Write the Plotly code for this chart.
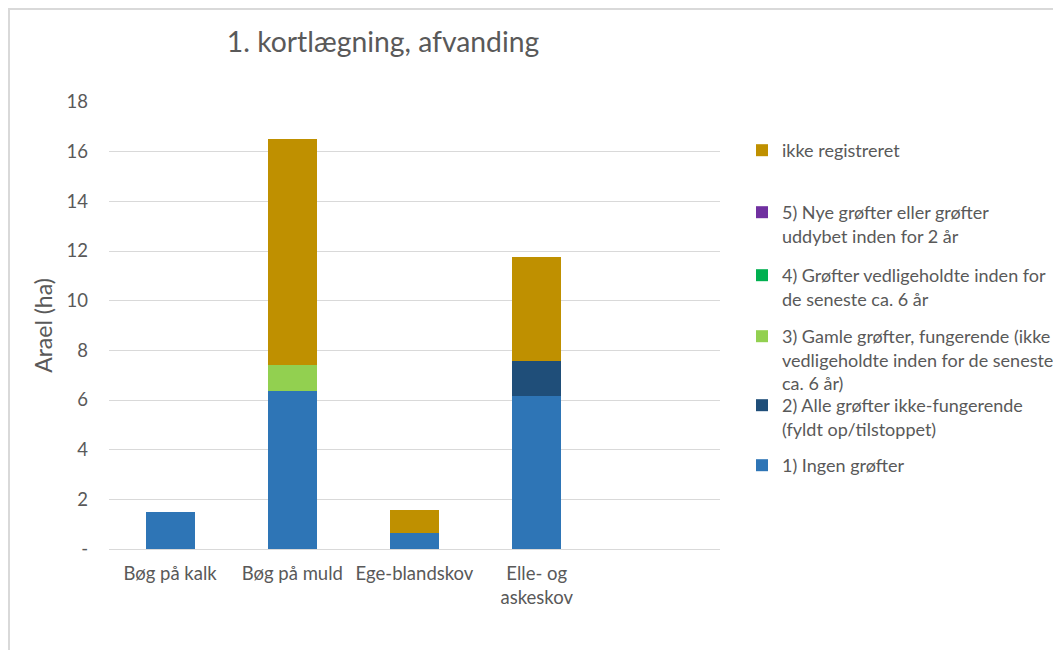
import plotly.graph_objects as go

# ---- data ----
categories = ["Bøg på kalk", "Bøg på muld", "Ege-blandskov", "Elle- og<br>askeskov"]
s1_ingen = [1.50, 6.36, 0.63, 6.15]
s2_alle_ikke_fung = [0.00, 0.00, 0.00, 1.41]
s3_gamle_fung = [0.00, 1.05, 0.00, 0.00]
s4_vedligeholdt = [0.00, 0.00, 0.00, 0.00]
s5_nye = [0.00, 0.00, 0.00, 0.00]
s6_ikke_reg = [0.00, 9.10, 0.95, 4.20]

series_names = [
    "1) Ingen grøfter",
    "2) Alle grøfter ikke-fungerende<br>(fyldt op/tilstoppet)",
    "3) Gamle grøfter, fungerende (ikke<br>vedligeholdte inden for de seneste<br>ca. 6 år)",
    "4) Grøfter vedligeholdte inden for<br>de seneste ca. 6 år",
    "5) Nye grøfter eller grøfter<br>uddybet inden for 2 år",
    "ikke registreret",
]
series_values = [s1_ingen, s2_alle_ikke_fung, s3_gamle_fung, s4_vedligeholdt, s5_nye, s6_ikke_reg]
series_colors = ["#2E75B6", "#1F4E79", "#92D050", "#00B050", "#7030A0", "#BF9000"]

y_tickvals = [0, 2, 4, 6, 8, 10, 12, 14, 16, 18]
y_ticktext = ["-", "2", "4", "6", "8", "10", "12", "14", "16", "18"]

# ---- layout geometry (screen pixels; page body has an 8px margin) ----
VIEW_W, VIEW_H = 1061, 650
W, H = 1110, 650          # figure a bit wider than the view so the legend never squeezes the plot
OFF = 8
PL, PR, PT, PB = 109 - OFF, 720 - OFF, 102 - OFF, 549 - OFF
pw, ph = PR - PL, PB - PT


def px_x(px):  # figure pixel -> paper
    return (px - PL) / pw


def px_y(py):
    return (PB - py) / ph


FONT = "Lato, 'Open Sans', sans-serif"
GREY = "#595959"

fig = go.Figure()
for i, (name, vals, col) in enumerate(zip(series_names, series_values, series_colors)):
    lg = "legend" if i == 0 else f"legend{i + 1}"
    fig.add_trace(go.Bar(
        x=categories, y=vals, name=name, marker=dict(color=col, line=dict(width=0)),
        legend=lg, hoverinfo="x+y+name",
    ))

legend_line_centres = [467, 407, 338, 277, 214, 152]  # screen y of first text line
layout_legends = {}
for i, yc in enumerate(legend_line_centres):
    key = "legend" if i == 0 else f"legend{i + 1}"
    layout_legends[key] = dict(
        x=px_x(783 - OFF - 41), y=px_y(yc - OFF - 20), xanchor="left", yanchor="top",
        valign="top", bgcolor="rgba(0,0,0,0)",
        font=dict(family=FONT, size=18, color=GREY),
        itemclick=False, itemdoubleclick=False,
    )

fig.update_layout(
    width=W, height=H,
    margin=dict(l=PL, r=W - PR, t=PT, b=H - PB, pad=0),
    paper_bgcolor="white", plot_bgcolor="white",
    barmode="stack", bargap=0.6,
    showlegend=True,
    title=dict(text="1. kortlægning, afvanding", x=(383 - OFF) / W, xanchor="center",
               y=1 - (42 - OFF) / H, yanchor="middle",
               font=dict(family=FONT, size=28.3, color=GREY)),
    font=dict(family=FONT, size=16, color=GREY),
    xaxis=dict(
        type="category", categoryorder="array", categoryarray=categories,
        range=[-0.5, 4.5], showgrid=False, showline=True, linecolor="#D9D9D9", linewidth=1,
        ticks="", tickfont=dict(family=FONT, size=18.5, color=GREY), ticklabelstandoff=8,
        fixedrange=True,
    ),
    yaxis=dict(
        range=[0, 18], tickvals=y_tickvals, ticktext=y_ticktext,
        showgrid=True, gridcolor="#D9D9D9", gridwidth=1, zeroline=False,
        showline=False, ticks="", tickfont=dict(family=FONT, size=18.5, color=GREY),
        ticklabelstandoff=20,
        title=dict(text="Arael (ha)", font=dict(family=FONT, size=23, color=GREY), standoff=7),
        fixedrange=True,
    ),
    shapes=[dict(
        type="rect", xref="paper", yref="paper",
        x0=px_x(1), x1=px_x(W + 20), y0=px_y(H + 20), y1=px_y(1),
        line=dict(color="#D9D9D9", width=2), fillcolor="rgba(0,0,0,0)", layer="below",
    )],
    **layout_legends,
)

fig.write_html("out.html")
